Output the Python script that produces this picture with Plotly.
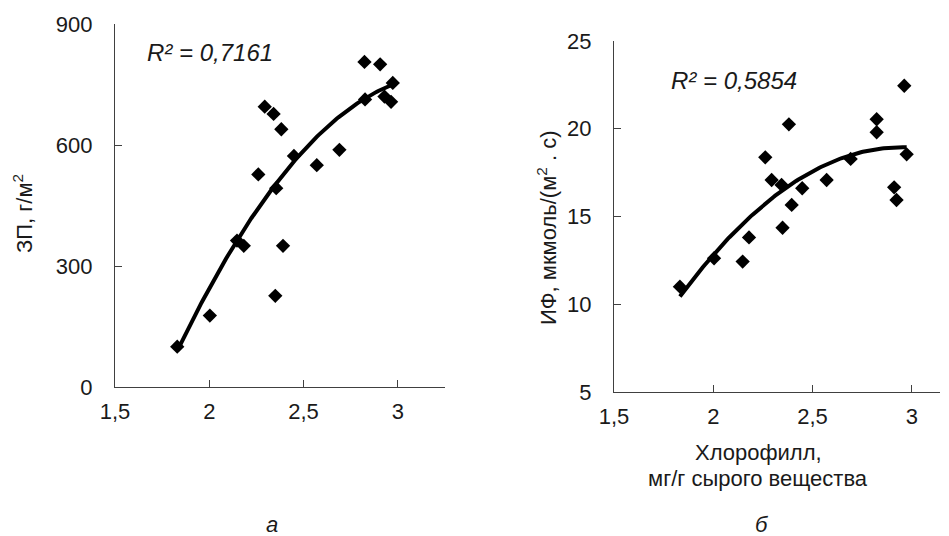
import numpy as np
import plotly.graph_objects as go

# Chart a: chlorophyll vs ZP
chl_a = [1.830, 2.003, 2.147, 2.183, 2.260, 2.294, 2.341, 2.355, 2.350, 2.382,
         2.391, 2.449, 2.570, 2.690, 2.823, 2.826, 2.906, 2.929, 2.964, 2.973]
zp = [100, 177, 363, 350, 527, 695, 677, 493, 226, 639,
      350, 573, 550, 588, 806, 713, 800, 720, 707, 754]

# Chart b: chlorophyll vs IF
chl_b = [1.832, 2.004, 2.148, 2.180, 2.262, 2.294, 2.344, 2.349, 2.381, 2.395,
         2.448, 2.571, 2.692, 2.823, 2.823, 2.911, 2.923, 2.962, 2.974]
ifv = [11.0, 12.62, 12.43, 13.81, 18.37, 17.08, 16.80, 14.36, 20.25, 15.66,
       16.61, 17.08, 18.28, 20.54, 19.80, 16.66, 15.94, 22.45, 18.54]

xticks = [1.5, 2, 2.5, 3]
yticks_a = [0, 300, 600, 900]
yticks_b = [5, 10, 15, 20, 25]

OFF = 8  # page body margin
W, H = 949 - OFF, 536 - OFF
TXT = "#1a1a1a"
AX = "#404040"
FONT = "Liberation Sans, Arial, sans-serif"


def trend(x, y):
    c = np.polyfit(x, y, 2)
    xs = np.linspace(min(x), max(x), 120)
    return xs, np.polyval(c, xs)


fig = go.Figure()
xa, ya = trend(chl_a, zp)
xb, yb = trend(chl_b, ifv)

fig.add_trace(go.Scatter(x=xa, y=ya, mode="lines", line=dict(color="black", width=4),
                         xaxis="x", yaxis="y", hoverinfo="skip"))
fig.add_trace(go.Scatter(x=chl_a, y=zp, mode="markers",
                         marker=dict(symbol="diamond", size=11, color="black"),
                         xaxis="x", yaxis="y"))
fig.add_trace(go.Scatter(x=xb, y=yb, mode="lines", line=dict(color="black", width=4),
                         xaxis="x2", yaxis="y2", hoverinfo="skip"))
fig.add_trace(go.Scatter(x=chl_b, y=ifv, mode="markers",
                         marker=dict(symbol="diamond", size=11, color="black"),
                         xaxis="x2", yaxis="y2"))


def px(v):
    return (v - OFF) / W


def py(v):
    return 1 - (v - OFF) / H


common = dict(showgrid=False, zeroline=False, showline=True, linecolor=AX, linewidth=1.3,
              ticks="inside", ticklen=7, tickcolor=AX, tickwidth=1.3, automargin=False,
              tickfont=dict(size=22, color=TXT, family=FONT))

fig.update_layout(
    width=W, height=H, margin=dict(l=0, r=0, t=0, b=0, autoexpand=False),
    paper_bgcolor="white", plot_bgcolor="white", showlegend=False,
    separators=", ",
    font=dict(family=FONT, color=TXT),
    xaxis=dict(domain=[px(115), px(445)], range=[1.5, 3.25], tickvals=xticks,
               anchor="y", ticklabelstandoff=4, **common),
    yaxis=dict(domain=[py(387), py(24)], range=[0, 900], tickvals=yticks_a,
               anchor="x", ticklabelstandoff=17, **common),
    xaxis2=dict(domain=[px(614), px(940)], range=[1.5, 3.142], tickvals=xticks,
                anchor="y2", ticklabelstandoff=4, **common),
    yaxis2=dict(domain=[py(392), py(41)], range=[5, 25], tickvals=yticks_b,
                anchor="x2", ticklabelstandoff=17, **common),
)

ann = [
    dict(text="ЗП, г/м<sup>2</sup>", x=px(23), y=py(214), textangle=-90, font=dict(size=22)),
    dict(text="ИФ, мкмоль/(м<sup>2</sup> . с)", x=px(547), y=py(228), textangle=-90, font=dict(size=22)),
    dict(text="Хлорофилл,", x=px(758), y=py(452), font=dict(size=22)),
    dict(text="мг/г сырого вещества", x=px(758), y=py(478), font=dict(size=22)),
    dict(text="<i>R² = 0,7161</i>", x=px(210), y=py(53), font=dict(size=24)),
    dict(text="<i>R² = 0,5854</i>", x=px(734), y=py(80), font=dict(size=24)),
    dict(text="<i>а</i>", x=px(272), y=py(524), font=dict(size=22)),
    dict(text="<i>б</i>", x=px(762), y=py(524), font=dict(size=22)),
]
for a in ann:
    a.update(xref="paper", yref="paper", showarrow=False, xanchor="center", yanchor="middle")
    a["font"].update(color=TXT, family=FONT)
fig.update_layout(annotations=ann)

fig.write_html("out.html")
